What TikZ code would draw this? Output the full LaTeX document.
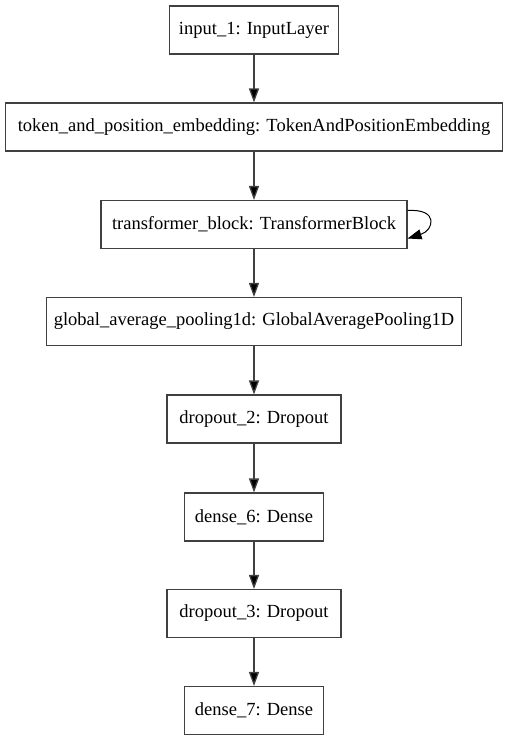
\documentclass[tikz,border=0pt]{standalone}
\usepackage{fontspec}
\setmainfont{Liberation Serif}
\usetikzlibrary{arrows.meta}
\begin{document}
\begin{tikzpicture}[x=1pt,y=-1pt,
  layer/.style={draw=black!75, line width=1.1pt, inner sep=0pt, minimum height=48pt,
    font=\fontsize{18.5}{20}\selectfont, anchor=center},
  tip/.style={-{Triangle[length=14pt,width=10pt,fill=black]}},
  flow/.style={draw=black!75, line width=1.3pt, tip}]
\useasboundingbox (0,0) rectangle (508,741);
\node[layer, minimum width=169pt] (in) at (254,30) {input\_1: InputLayer};
\node[layer, minimum width=497pt] (tok) at (254,127) {token\_and\_position\_embedding: TokenAndPositionEmbedding};
\node[layer, minimum width=306pt] (tb) at (254,224.5) {transformer\_block: TransformerBlock};
\node[layer, minimum width=415pt] (gap) at (254,321.5) {global\_average\_pooling1d: GlobalAveragePooling1D};
\node[layer, minimum width=174pt] (do2) at (254,419) {dropout\_2: Dropout};
\node[layer, minimum width=139pt] (d6) at (254,517) {dense\_6: Dense};
\node[layer, minimum width=174pt] (do3) at (254,613.5) {dropout\_3: Dropout};
\node[layer, minimum width=139pt] (d7) at (254,710.5) {dense\_7: Dense};
\draw[flow] (in) -- (tok);
\draw[flow] (tok) -- (tb);
\draw[flow] (tb) -- (gap);
\draw[flow] (gap) -- (do2);
\draw[flow] (do2) -- (d6);
\draw[flow] (d6) -- (do3);
\draw[flow] (do3) -- (d7);
\coordinate (ls) at ([yshift=14pt]tb.east);
\coordinate (le) at ([yshift=-14pt]tb.east);
\draw[line width=1pt, tip] (ls) .. controls +(32,-2) and +(26,-8) .. (le);
\end{tikzpicture}
\end{document}
